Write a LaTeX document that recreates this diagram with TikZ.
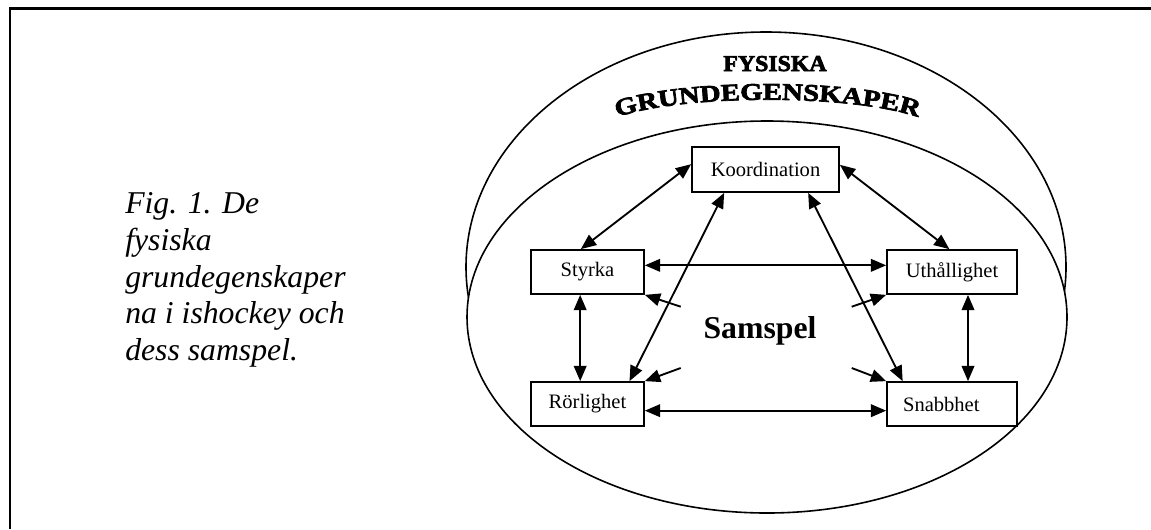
\documentclass[tikz,border=0pt]{standalone}
\usepackage{fontspec}
\setmainfont{Liberation Serif}
\newfontfamily\titlefont[FakeStretch=1.05,FakeBold=3]{Liberation Serif}
\newfontfamily\archfont[FakeStretch=1.2,FakeBold=3]{Liberation Serif}
\usetikzlibrary{arrows.meta,decorations.text,calc}
\begin{document}
\begin{tikzpicture}[x=0.75pt,y=-0.75pt,
  box/.style={draw, line width=1.3pt, minimum height=33pt, inner sep=0pt,
    font=\fontsize{15.4}{18}\selectfont},
  link/.style={line width=1.4pt,
    {Triangle[length=11.5pt,width=9.5pt]}-{Triangle[length=11.5pt,width=9.5pt]}},
  single/.style={line width=1.4pt, -{Triangle[length=11.5pt,width=9.5pt]}},
  ring/.style={line width=1.2pt},
  caption/.style={anchor=base west, inner sep=0pt,
    font=\fontsize{23.8}{27.4}\selectfont\itshape},
  titletext/.style={anchor=base, inner sep=0pt,
    font=\titlefont\bfseries\fontsize{17}{20}\selectfont}]
\useasboundingbox (0,0) rectangle (1151,529);
% frame
\draw[line width=1.9pt] (10,529) -- (10,8.5) -- (1151,8.5);
% ellipses
\draw[ring] (766,267) ellipse [x radius=225pt, y radius=176.25pt];
\draw[ring, fill=white] (767,317) ellipse [x radius=225pt, y radius=147pt];
% title
\node[titletext] (T1) at (775,71) {FYSISKA};
\path[decorate, decoration={text along path, text align=center,
  text={|\archfont\bfseries\fontsize{18}{20}\selectfont|GRUNDEGENSKAPER}}]
  (598,126) .. controls (650,91) and (885,91) .. (937,126);
% caption
\node[caption] (c1) at (125,213) {Fig. 1. De};
\node[caption] (c2) at (125,250) {fysiska};
\node[caption] (c3) at (125,287) {grundegenskaper};
\node[caption] (c4) at (125,323) {na i ishockey och};
\node[caption] (c5) at (125,360) {dess samspel.};
% boxes
\node[box, minimum width=110.25pt, minimum height=33.75pt] (K) at (765.5,169.5) {Koordination};
\node[box, minimum width=84.75pt] (S) at (587.5,272) {Styrka};
\node[box, minimum width=97.5pt] (U) at (952,272) {Uthållighet};
\node[box, minimum width=84.75pt] (R) at (587.5,404) {Rörlighet};
\node[box, minimum width=97.5pt] (N) at (952,404) {\hspace*{-16pt}Snabbhet};
% center label
\node[anchor=base, inner sep=0pt, font=\fontsize{23.8}{28}\selectfont\bfseries] (P) at (760,338) {Samspel};
% connectors
\draw[link] ([yshift=4pt]K.west) -- ([xshift=-5pt]S.north);
\draw[link] ([yshift=3.5pt]K.east) -- ([xshift=-2pt]U.north);
\draw[link] ([yshift=5pt]S.east) -- ([yshift=5pt]U.west);
\draw[link] ([xshift=-31pt]K.south) -- ([xshift=31.5pt]R.north);
\draw[link] ([xshift=32pt]K.south) -- ([xshift=-37pt]N.north);
\draw[link] ([xshift=-5.5pt]S.south) -- ([xshift=-5.5pt]R.north);
\draw[link] ([xshift=12pt]U.south) -- ([xshift=12pt]N.north);
\draw[link] ([yshift=-5pt]R.east) -- ([yshift=-5pt]N.west);
% short arrows from the centre
\coordinate (a1) at (680.7,306.7);
\coordinate (a2) at (680.7,368);
\coordinate (a3) at (851.7,306.7);
\coordinate (a4) at (851.7,368);
\draw[single] (a1) -- (S.south east);
\draw[single] (a2) -- (R.north east);
\draw[single] (a3) -- (U.south west);
\draw[single] (a4) -- (N.north west);
\end{tikzpicture}
\end{document}
